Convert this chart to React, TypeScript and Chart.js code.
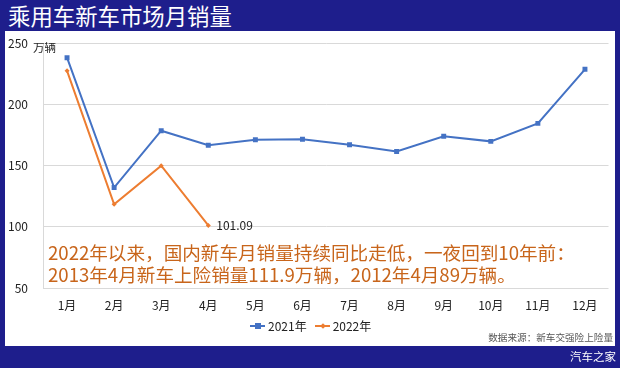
import React, { useEffect, useRef } from "react";
import { Chart, registerables } from "chart.js";

Chart.register(...registerables);

const months = ["1月", "2月", "3月", "4月", "5月", "6月", "7月", "8月", "9月", "10月", "11月", "12月"];
const sales2021 = [238, 132, 178.4, 166.6, 171, 171.5, 167, 161.5, 173.8, 169.7, 184.4, 228.5];
const sales2022 = [227.3, 118.3, 149.8, 101.09];
const yTicks = [50, 100, 150, 200, 250];
const lastLabel = "101.09";

const NAVY = "#1e1e8c";
const BLUE = "#4472C4";
const ORANGE = "#ED7D31";
const FONT = "'Noto Sans CJK SC', 'Noto Sans', sans-serif";

export default function App() {
  const ref = useRef<HTMLCanvasElement>(null);
  useEffect(() => {
    const labelPlugin = {
      id: "lastLabel",
      afterDatasetsDraw(chart: any) {
        const meta = chart.getDatasetMeta(1);
        const pt = meta.data[meta.data.length - 1];
        const ctx = chart.ctx;
        ctx.save();
        ctx.font = `12px ${FONT}`;
        ctx.fillStyle = "#222";
        ctx.textAlign = "left";
        ctx.textBaseline = "middle";
        ctx.fillText(lastLabel, pt.x + 8, pt.y);
        ctx.restore();
      },
    };
    const chart = new Chart(ref.current!, {
      type: "line",
      data: {
        labels: months,
        datasets: [
          {
            label: "2021年",
            data: sales2021,
            borderColor: BLUE,
            backgroundColor: BLUE,
            borderWidth: 2,
            pointStyle: "rect",
            pointRadius: 3.5,
            pointBorderWidth: 0,
            tension: 0,
          },
          {
            label: "2022年",
            data: sales2022,
            borderColor: ORANGE,
            backgroundColor: ORANGE,
            borderWidth: 2,
            pointStyle: "rectRot",
            pointRadius: 2.5,
            pointBorderWidth: 0,
            tension: 0,
          },
        ],
      },
      options: {
        animation: false,
        responsive: false,
        maintainAspectRatio: false,
        layout: { autoPadding: false, padding: { left: 0, right: 6.5, top: 12, bottom: 0 } },
        plugins: { legend: { display: false }, tooltip: { enabled: false } },
        scales: {
          x: {
            offset: true,
            grid: { display: false, drawTicks: false },
            border: { display: false },
            ticks: { padding: 10, color: "#222", font: { family: FONT, size: 12 } },
            afterFit: (s: any) => {
              s.height = 58;
              s.paddingLeft = 0;
              s.paddingRight = 0;
            },
          },
          y: {
            min: 50,
            max: 250,
            afterBuildTicks: (s: any) => {
              s.ticks = yTicks.map((v) => ({ value: v }));
            },
            grid: { color: "#d9d9d9", lineWidth: 1, drawTicks: false },
            border: { display: true, color: "#d9d9d9" },
            ticks: { padding: 15.5, color: "#222", font: { family: FONT, size: 12 } },
            afterFit: (s: any) => {
              s.width = 38.5;
              s.paddingTop = 0;
              s.paddingBottom = 0;
            },
          },
        },
      },
      plugins: [labelPlugin],
    });
    return () => chart.destroy();
  }, []);

  return (
    <div style={{ position: "fixed", left: 0, top: 0, width: 620, height: 368, background: NAVY, fontFamily: FONT, overflow: "hidden" }}>
      <div style={{ position: "absolute", left: 8, top: 0, height: 31, lineHeight: "31px", color: "#fff", fontSize: 22.4 }}>
        乘用车新车市场月销量
      </div>
      <div style={{ position: "absolute", left: 5, top: 31, width: 610, height: 315, background: "#fff" }}>
        <canvas ref={ref} width={610} height={315} style={{ position: "absolute", left: 0, top: 0, width: 610, height: 315 }} />
        <div style={{ position: "absolute", left: 28, top: 8, fontSize: 11.5, color: "#222" }}>万辆</div>
        <div style={{ position: "absolute", left: 43, top: 210, fontSize: 18.6, lineHeight: "22px", color: "#C8651B", whiteSpace: "nowrap" }}>
          2022年以来，国内新车月销量持续同比走低，一夜回到10年前：
          <br />
          2013年4月新车上险销量111.9万辆，2012年4月89万辆。
        </div>
        <div style={{ position: "absolute", left: 245, top: 286, fontSize: 12, color: "#222", display: "flex", alignItems: "center", whiteSpace: "nowrap" }}>
          <span style={{ position: "relative", width: 15, height: 2, background: BLUE, display: "inline-block", marginRight: 3 }}>
            <span style={{ position: "absolute", left: 5, top: -2, width: 6, height: 6, background: BLUE }} />
          </span>
          <span style={{ marginRight: 8 }}>2021年</span>
          <span style={{ position: "relative", width: 15, height: 2, background: ORANGE, display: "inline-block", marginRight: 3 }}>
            <span style={{ position: "absolute", left: 6, top: -1, width: 4, height: 4, background: ORANGE, transform: "rotate(45deg)" }} />
          </span>
          <span>2022年</span>
        </div>
        <div style={{ position: "absolute", right: 2, top: 299, fontSize: 9.6, color: "#555", whiteSpace: "nowrap" }}>
          数据来源：新车交强险上险量
        </div>
      </div>
      <div style={{ position: "absolute", right: 4, top: 348, fontSize: 11.5, color: "#fff", whiteSpace: "nowrap" }}>汽车之家</div>
    </div>
  );
}
